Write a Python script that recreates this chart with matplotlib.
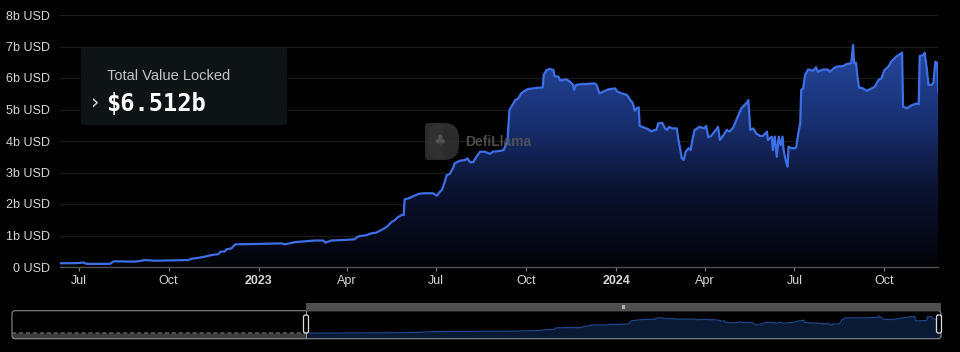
import matplotlib
matplotlib.use('Agg')
import matplotlib.pyplot as plt
import numpy as np
from matplotlib.patches import Rectangle, FancyBboxPatch
from matplotlib.transforms import IdentityTransform
from matplotlib.colors import LinearSegmentedColormap

# days since 2022-06-12 and TVL in billions USD
start = np.datetime64('2022-06-12')
days = [0, 15, 24, 27, 39, 51, 55, 77, 87, 97, 131, 134, 141, 148, 155, 162, 164, 168, 170, 175,
        179, 199, 226, 230, 240, 260, 269, 271, 277, 291, 301, 303, 306, 313, 318, 323, 328, 334, 339, 342,
        345, 349, 351, 352, 356, 361, 366, 371, 381, 385, 388, 390, 393, 395, 398, 402, 403, 408, 414, 416,
        419, 422, 425, 429, 434, 439, 442, 448, 453, 457, 459, 461, 465, 468, 471, 475, 478, 483, 488, 493,
        494, 497, 500, 504, 505, 509, 511, 514, 517, 521, 524, 525, 527, 531, 538, 546, 548, 551, 555, 560,
        567, 569, 574, 579, 582, 585, 587, 589, 591, 592, 596, 601, 604, 607, 609, 611, 615, 618, 620, 622,
        625, 630, 631, 633, 635, 637, 639, 642, 644, 646, 648, 651, 653, 658, 660, 662, 665, 671, 672, 674,
        677, 681, 684, 688, 691, 696, 698, 701, 703, 705, 708, 711, 715, 718, 722, 723, 727, 728, 730, 732,
        734, 736, 738, 739, 741, 743, 744, 747, 751, 752, 754, 756, 757, 759, 761, 764, 769, 772, 774, 779,
        784, 786, 790, 793, 800, 803, 808, 810, 811, 813, 814, 816, 820, 824, 829, 832, 836, 839, 842, 846,
        849, 854, 860, 861, 865, 870, 875, 877, 878, 882, 883, 885, 887, 890, 892, 894, 896, 897]
tvl = [0.12, 0.12, 0.14, 0.10, 0.10, 0.10, 0.18, 0.17, 0.22, 0.20, 0.22, 0.26, 0.29, 0.33, 0.38, 0.41, 0.49, 0.49, 0.56, 0.59,
       0.72, 0.73, 0.75, 0.72, 0.79, 0.84, 0.84, 0.77, 0.84, 0.86, 0.88, 0.94, 0.98, 1.01, 1.07, 1.09, 1.17, 1.28, 1.44, 1.49,
       1.58, 1.65, 1.65, 2.15, 2.18, 2.25, 2.32, 2.34, 2.34, 2.26, 2.39, 2.44, 2.71, 2.92, 2.95, 3.18, 3.29, 3.37, 3.40, 3.45,
       3.32, 3.33, 3.48, 3.66, 3.66, 3.59, 3.66, 3.68, 3.71, 4.00, 4.98, 5.09, 5.30, 5.35, 5.51, 5.60, 5.65, 5.67, 5.69, 5.70,
       6.10, 6.25, 6.29, 6.25, 6.06, 6.04, 5.92, 5.94, 5.96, 5.88, 5.78, 5.62, 5.78, 5.80, 5.81, 5.83, 5.78, 5.51, 5.57, 5.64,
       5.67, 5.57, 5.51, 5.46, 5.32, 5.20, 4.96, 5.04, 5.07, 4.48, 4.43, 4.37, 4.30, 4.35, 4.35, 4.56, 4.58, 4.40, 4.35, 4.45,
       4.40, 4.40, 4.14, 3.82, 3.45, 3.40, 3.66, 3.77, 3.71, 4.05, 4.35, 4.40, 4.45, 4.40, 4.48, 4.12, 4.16, 4.40, 4.45, 4.03,
       4.16, 4.35, 4.30, 4.45, 4.69, 5.04, 5.11, 5.20, 5.30, 4.35, 4.40, 4.24, 4.16, 4.16, 4.30, 4.03, 4.14, 3.71, 4.14, 3.50,
       4.14, 3.87, 4.14, 3.71, 3.40, 3.18, 3.82, 3.77, 3.77, 3.82, 4.24, 4.56, 5.62, 5.67, 6.10, 6.27, 6.23, 6.34, 6.20, 6.27,
       6.27, 6.20, 6.30, 6.36, 6.38, 6.44, 6.47, 7.05, 6.47, 6.49, 6.15, 5.70, 5.67, 5.59, 5.67, 5.72, 5.94, 5.99, 6.25, 6.36,
       6.52, 6.68, 6.80, 5.09, 5.04, 5.14, 5.19, 5.17, 6.70, 6.73, 6.80, 6.36, 5.78, 5.78, 5.85, 6.52, 6.47, 5.57]

# earlier history shown only in the navigator (days before 2022-06-12)
pre_days = [-415, -330, -250, -170, -90, 0]
pre_tvl = [0.10, 0.11, 0.10, 0.12, 0.11, 0.12]

tick_dates = ['2022-07-01', '2022-10-01', '2023-01-01', '2023-04-01', '2023-07-01',
              '2023-10-01', '2024-01-01', '2024-04-01', '2024-07-01', '2024-10-01']
tick_labels = ['Jul', 'Oct', '2023', 'Apr', 'Jul', 'Oct', '2024', 'Apr', 'Jul', 'Oct']
y_labels = ['0 USD', '1b USD', '2b USD', '3b USD', '4b USD', '5b USD', '6b USD', '7b USD', '8b USD']

W, H = 960, 352
def fx(x):
    return x / W
def fy(y):
    return 1 - y / H

plt.rcParams['font.family'] = ['Liberation Sans', 'DejaVu Sans']
fig = plt.figure(figsize=(9.6, 3.52), dpi=100, facecolor='black')

dates = start + np.array(days).astype('timedelta64[D]')
vals = np.array(tvl)

ax = fig.add_axes([fx(60), fy(267), fx(938.3) - fx(60), fy(15) - fy(267)])
ax.set_facecolor('black')
ax.set_xlim(dates[0], dates[-1])
ax.set_ylim(0, 8)

# gradient fill under the line
cmap = LinearSegmentedColormap.from_list('tvl', ['#020308', '#0b1230', '#1a3276', '#26499f'])
poly = ax.fill_between(dates, 0, vals, facecolor='none', edgecolor='none')
x0, x1 = ax.get_xlim()
grad = np.linspace(0, 1, 256).reshape(-1, 1)
im = ax.imshow(grad, aspect='auto', cmap=cmap, origin='lower', extent=[x0, x1, 0, 7.2], zorder=1)
im.set_clip_path(poly.get_paths()[0], transform=ax.transData)
ax.set_xlim(x0, x1)
ax.set_ylim(0, 8)
ax.plot(dates, vals, color='#3d6fe6', lw=1.6, zorder=3, solid_joinstyle='round')

ax.set_yticks(range(9))
ax.set_yticklabels(y_labels)
ax.grid(axis='y', color='#1b1b1b', lw=0.9, zorder=0)
ax.set_axisbelow(True)
tick_pos = [np.datetime64(d) for d in tick_dates]
ax.set_xticks(tick_pos)
ax.set_xticklabels(tick_labels)
for lab in ax.get_xticklabels():
    if lab.get_text().isdigit():
        lab.set_fontweight('bold')
ax.tick_params(axis='y', length=0, pad=7, labelsize=9, labelcolor='#d6d6d6')
ax.tick_params(axis='x', length=3, width=0.9, color='#777777', pad=3, labelsize=9, labelcolor='#d6d6d6')
for s in ['top', 'right', 'left']:
    ax.spines[s].set_visible(False)
ax.spines['bottom'].set_color('#505050')
ax.spines['bottom'].set_linewidth(1.0)

# watermark (logo shape + name), drawn in pixel units
px = IdentityTransform()
fig.add_artist(FancyBboxPatch((425, H - 160), 18, 37, boxstyle='round,pad=0,rounding_size=4',
                              facecolor='#333333', edgecolor='none', alpha=0.85, zorder=2, transform=px))
fig.add_artist(FancyBboxPatch((428, H - 160), 31, 37, boxstyle='round,pad=0,rounding_size=15',
                              facecolor='#333333', edgecolor='none', alpha=0.85, zorder=2, transform=px))
fig.text(fx(440), fy(141), '\u2663', color='#5c5c5c', fontsize=10, family='DejaVu Sans',
         ha='center', va='center', zorder=3, alpha=0.8)
fig.text(fx(465), fy(142), 'DefiLlama', color='#585858', fontsize=10, fontweight='bold',
         ha='left', va='center', zorder=3, alpha=0.85)

# tooltip box
fig.add_artist(Rectangle((fx(81), fy(125)), fx(287) - fx(81), fy(48) - fy(125),
                         facecolor='#0e1416', edgecolor='none', zorder=4))
fig.text(fx(107), fy(76), 'Total Value Locked', color='#c4c4c4', fontsize=10.5,
         ha='left', va='center', zorder=5)
fig.text(fx(106), fy(104), '$6.512b', color='white', fontsize=17, fontweight='bold',
         family='DejaVu Sans Mono', ha='left', va='center', zorder=5)
fig.text(fx(95), fy(102), '\u203a', color='#d0d0d0', fontsize=15, family='DejaVu Sans',
         ha='center', va='center', zorder=5)

# navigator / brush
nav = fig.add_axes([fx(12), fy(338.7), fx(941) - fx(12), fy(310.7) - fy(338.7)])
nav.set_facecolor('black')
pre_dates = start + np.array(pre_days).astype('timedelta64[D]')
nav.set_xlim(pre_dates[0], dates[-1])
nav.set_ylim(-2.2, 9.2)
nav.fill_between(pre_dates, -2.2, pre_tvl, color='#3c3c3c', lw=0)
nav.plot(pre_dates, pre_tvl, color='#6a6a6a', lw=1.0, ls=(0, (3, 2)))
nav.fill_between(dates, -2.2, vals, color='#0a1a35', lw=0)
nav.plot(dates, vals, color='#1f4688', lw=0.9)
nav.set_xticks([])
nav.set_yticks([])
for s in nav.spines.values():
    s.set_visible(False)

fig.add_artist(FancyBboxPatch((12, H - 338.7), 929, 28, boxstyle='round,pad=0,rounding_size=3',
                              facecolor='none', edgecolor='#8a8a8a', lw=0.8, zorder=6, transform=px))
fig.add_artist(Rectangle((fx(306), fy(310.7)), fx(941) - fx(306), fy(303.3) - fy(310.7),
                         facecolor='#4e4e4e', edgecolor='none', zorder=6))
fig.add_artist(Rectangle((fx(621.5), fy(308.5)), fx(3.5), fy(305) - fy(308.5),
                         facecolor='#b0b0b0', edgecolor='none', zorder=7))
fig.add_artist(Rectangle((fx(306), fy(338.7)), fx(0.8), fy(310.7) - fy(338.7),
                         facecolor='#9a9a9a', edgecolor='none', zorder=6))
for hx in [306, 939]:
    fig.add_artist(FancyBboxPatch((hx - 2.5, H - 333), 5, 18, boxstyle='round,pad=0,rounding_size=2',
                                  facecolor='black', edgecolor='#dddddd', lw=0.9, zorder=8, transform=px))

fig.savefig('out.png', dpi=100, facecolor='black')
